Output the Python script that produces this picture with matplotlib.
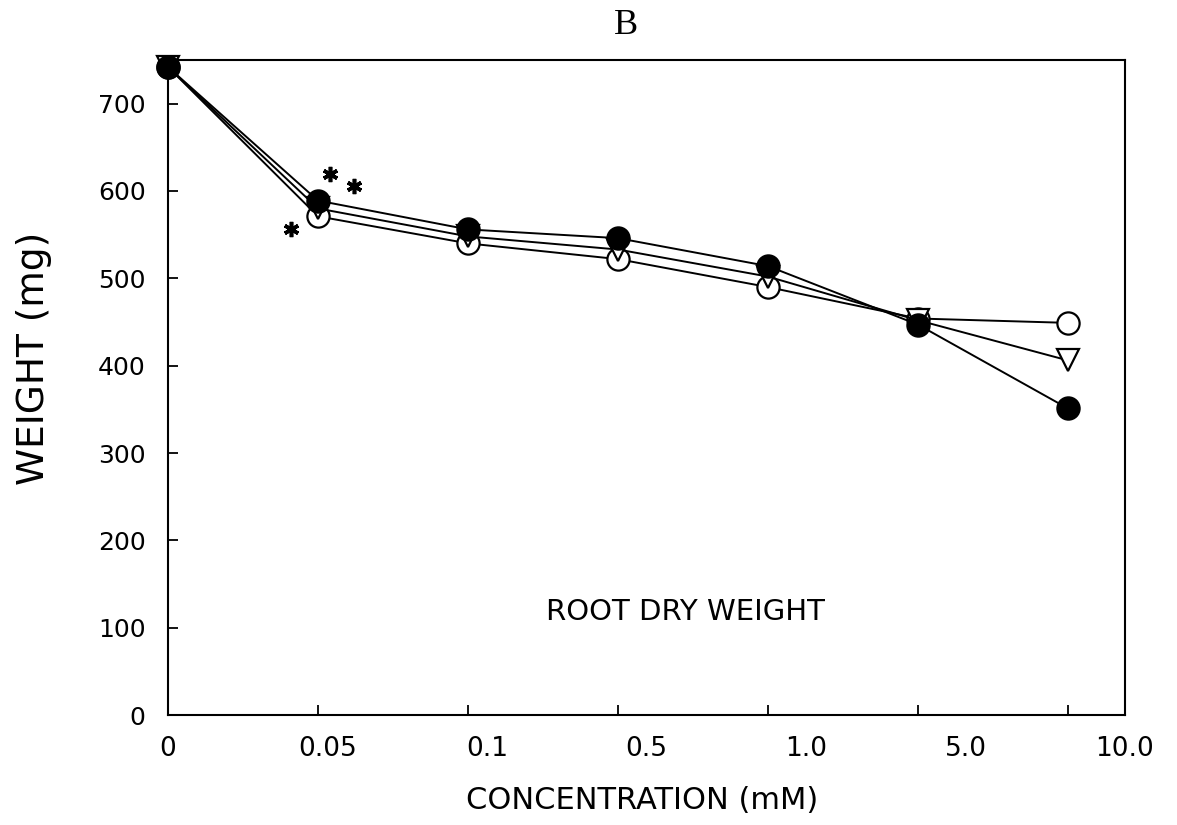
import numpy as np
import matplotlib
matplotlib.use("Agg")
import matplotlib.pyplot as plt

# ================================
# DATA
# ================================
conc_labels = ["0", "0.05", "0.1", "0.5", "1.0", "5.0", "10.0"]
x_pos = [0, 1, 2, 3, 4, 5, 6]

open_circle = [742, 571, 540, 522, 490, 454, 449]
triangle = [742, 580, 548, 533, 502, 452, 406]
filled_circle = [742, 589, 556, 546, 514, 447, 351]

star_x = [0.82, 1.08, 1.24]
star_y = [557, 619, 606]

plt.rcParams['font.family'] = ['DejaVu Sans']

fig = plt.figure(figsize=(11.77, 8.25), dpi=100)
ax = fig.add_axes([0.1427, 0.1333, 0.8131, 0.794])

line_kw = dict(color="black", lw=1.4, markersize=16, markeredgewidth=1.6, clip_on=False)
ax.plot(x_pos, open_circle, marker="o", mfc="white", mec="black", **line_kw, zorder=3)
ax.plot(x_pos, triangle, marker="v", mfc="white", mec="black", **line_kw, zorder=4)
ax.plot(x_pos, filled_circle, marker="o", mfc="black", mec="black", **line_kw, zorder=5)

# significance stars
ax.plot(star_x, star_y, linestyle="none", marker=(6, 2, 0), color="black",
        markersize=11, markeredgewidth=2.6)

xmax = 6.38
ax.set_xlim(0, xmax)
ax.set_ylim(0, 750)

# labels spread evenly along the axis, tick marks at the data positions
ax.set_xticks([i * xmax / 6 for i in range(7)])
ax.set_xticklabels(conc_labels)
ax.tick_params(axis="x", which="major", length=0, pad=15, labelsize=19)
ax.set_xticks(x_pos[1:], minor=True)
ax.tick_params(axis="x", which="minor", direction="in", length=7, width=1.3)

ax.set_yticks(np.arange(0, 800, 100))
ax.tick_params(axis="y", direction="in", length=7, width=1.3, pad=16, labelsize=18)

for s in ax.spines.values():
    s.set_linewidth(1.5)

ax.set_xlabel("CONCENTRATION (mM)", fontsize=22)
ax.xaxis.set_label_coords(0.495, -0.108)
ax.set_ylabel("WEIGHT (mg)", fontsize=27)
ax.yaxis.set_label_coords(-0.121, 0.545)

ax.text(0.4786, 1.052, "B", transform=ax.transAxes, fontsize=26,
        family=["Liberation Serif", "DejaVu Serif"], ha="center", va="center")

ax.text(3.45, 118, "ROOT DRY WEIGHT", fontsize=21, ha="center", va="center")

fig.savefig("out.png", dpi=100)
